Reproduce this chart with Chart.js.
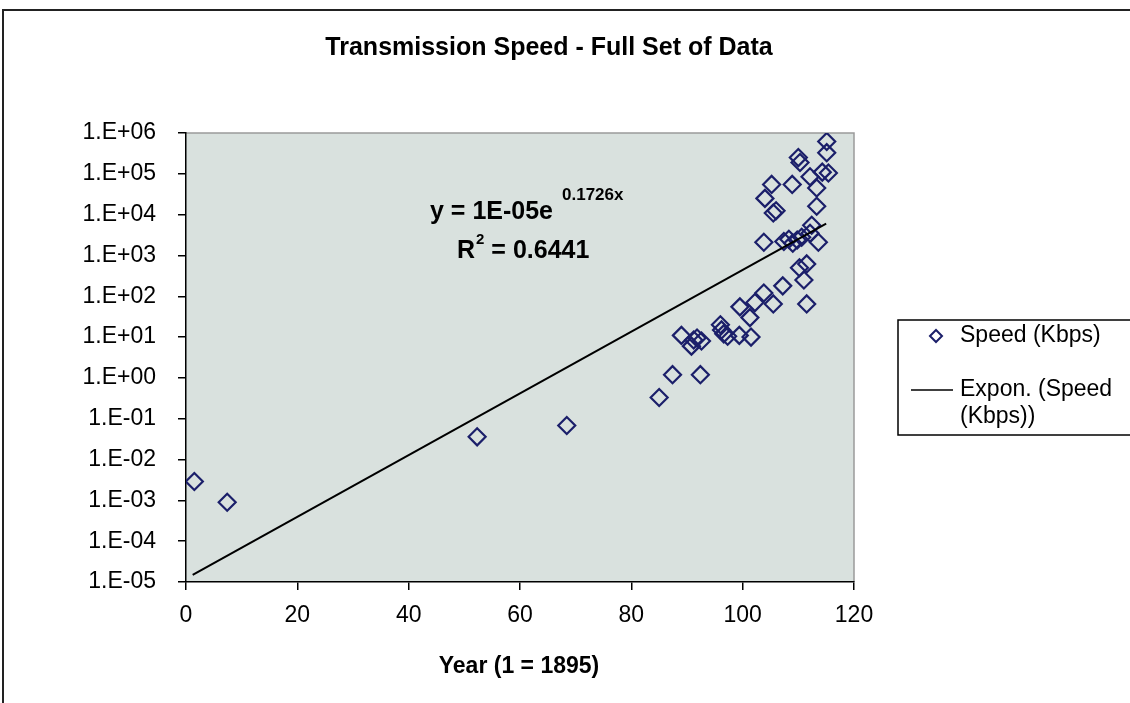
<!DOCTYPE html>
<html><head><meta charset="utf-8">
<script src="https://cdn.jsdelivr.net/npm/chart.js@4"></script>
<style>html,body{margin:0;padding:0;background:#fff;}#wrap{width:1130px;height:703px;position:relative;}canvas{display:block;}</style>
</head><body><div id="wrap"><canvas id="c" width="1130" height="703"></canvas></div>
<script>
const chartTitle = 'Transmission Speed - Full Set of Data';
const xAxisTitle = 'Year (1 = 1895)';
const seriesLabel = 'Speed (Kbps)';
const trendLabelLines = ['Expon. (Speed', '(Kbps))'];
const equationMain = 'y = 1E-05e';
const equationExp = '0.1726x';
const r2Main = 'R';
const r2Sup = '2';
const r2Rest = ' = 0.6441';

const years = [1.5, 7.4, 52.3, 68.4, 85.0, 87.4, 92.4, 89.0, 90.8, 91.2, 91.8, 92.6,
  96.0, 96.2, 96.6, 97.3, 99.4, 101.5, 99.5, 101.3, 102.2, 103.8, 105.5, 107.2,
  111.0, 111.5, 110.2, 111.5, 103.8, 107.4, 108.3, 109.0, 109.8, 110.6, 112.4, 112.1,
  113.6, 105.5, 106.0, 113.3, 104.0, 105.2, 108.9, 113.3, 112.1, 114.3, 115.4, 110.0,
  110.3, 115.1, 115.1];
const speeds = [0.0029, 0.0009, 0.036, 0.068, 0.33, 1.2, 1.2, 11, 6, 8.5, 9.5, 8,
  20, 15, 12, 10.5, 11, 10, 55, 30, 70, 120, 65, 180,
  250, 65, 500, 620, 2100, 2200, 2500, 2000, 2400, 2800, 5500, 3500,
  2100, 11000, 12500, 16000, 25000, 55000, 55000, 45000, 85000, 110000, 105000, 250000,
  190000, 330000, 620000];
const trendYears = [1.2, 115];
const trendSpeeds = [1.5e-5, 6000];
const xTickValues = [0, 20, 40, 60, 80, 100, 120];
const yTickValues = [1e-5, 1e-4, 1e-3, 1e-2, 1e-1, 1e0, 1e1, 1e2, 1e3, 1e4, 1e5, 1e6];

const FONT = '"Liberation Sans", Arial, sans-serif';
const markerColor = '#1b1f6a';
const plotBg = '#d9e1de';

function fmtExp(v) {
  const e = Math.round(Math.log10(v));
  const s = e < 0 ? '-' : '+';
  const a = Math.abs(e);
  return '1.E' + s + (a < 10 ? '0' + a : a);
}

const decorPlugin = {
  id: 'decor',
  beforeDraw(chart) {
    const {ctx, chartArea: a} = chart;
    ctx.save();
    ctx.fillStyle = plotBg;
    ctx.fillRect(a.left, a.top, a.right - a.left, a.bottom - a.top);
    ctx.strokeStyle = '#9a9a9a';
    ctx.lineWidth = 1.5;
    ctx.beginPath();
    ctx.moveTo(a.left, a.top); ctx.lineTo(a.right, a.top); ctx.lineTo(a.right, a.bottom);
    ctx.stroke();
    ctx.strokeStyle = '#222';
    ctx.lineWidth = 2;
    ctx.strokeRect(3, 10, 1200, 800);
    ctx.restore();
  },
  afterDraw(chart) {
    const {ctx, chartArea: a} = chart;
    ctx.save();
    ctx.fillStyle = '#000';
    ctx.textBaseline = 'middle';
    ctx.textAlign = 'center';
    ctx.font = 'bold 25px ' + FONT;
    ctx.fillText(chartTitle, 549, 48);
    ctx.font = 'bold 23px ' + FONT;
    ctx.fillText(xAxisTitle, (a.left + a.right) / 2 - 1, 667);
    ctx.textAlign = 'left';
    ctx.font = 'bold 25px ' + FONT;
    ctx.fillText(equationMain, 430, 212);
    const w1 = ctx.measureText(equationMain).width;
    ctx.font = 'bold 17px ' + FONT;
    ctx.fillText(equationExp, 430 + w1 + 9, 195);
    ctx.font = 'bold 25px ' + FONT;
    ctx.fillText(r2Main, 457, 251);
    const wR = ctx.measureText(r2Main).width;
    ctx.font = 'bold 15px ' + FONT;
    ctx.fillText(r2Sup, 457 + wR + 1, 240);
    const w2 = ctx.measureText(r2Sup).width;
    ctx.font = 'bold 25px ' + FONT;
    ctx.fillText(r2Rest, 457 + wR + w2 + 1, 251);
    ctx.strokeStyle = '#000';
    ctx.lineWidth = 1.5;
    ctx.strokeRect(898, 320, 300, 115);
    ctx.strokeStyle = markerColor;
    ctx.lineWidth = 2;
    ctx.beginPath();
    const dx = 936, dy = 336, r = 6;
    ctx.moveTo(dx - r, dy); ctx.lineTo(dx, dy - r); ctx.lineTo(dx + r, dy); ctx.lineTo(dx, dy + r); ctx.closePath();
    ctx.stroke();
    ctx.strokeStyle = '#000';
    ctx.lineWidth = 1.5;
    ctx.beginPath(); ctx.moveTo(911, 390); ctx.lineTo(953, 390); ctx.stroke();
    ctx.font = '23px ' + FONT;
    ctx.fillStyle = '#000';
    ctx.fillText(seriesLabel, 960, 336);
    ctx.fillText(trendLabelLines[0], 960, 390);
    ctx.fillText(trendLabelLines[1], 960, 417);
    ctx.restore();
  }
};

new Chart(document.getElementById('c'), {
  type: 'scatter',
  data: {
    datasets: [
      {
        label: trendLabelLines.join(' '),
        type: 'line',
        data: trendYears.map((x, i) => ({x, y: trendSpeeds[i]})),
        borderColor: '#000',
        borderWidth: 2,
        pointRadius: 0,
        fill: false,
        order: 0
      },
      {
        label: seriesLabel,
        data: years.map((x, i) => ({x, y: speeds[i]})),
        pointStyle: 'rectRot',
        pointRadius: 8.5,
        pointHoverRadius: 8.5,
        borderColor: markerColor,
        backgroundColor: 'rgba(0,0,0,0)',
        borderWidth: 2.2,
        order: 1
      }
    ]
  },
  options: {
    responsive: false,
    animation: false,
    events: [],
    layout: {padding: {left: 0, right: 276, top: 133, bottom: 0}},
    plugins: {legend: {display: false}, tooltip: {enabled: false}, title: {display: false}},
    scales: {
      x: {
        type: 'linear', min: 0, max: 120,
        afterBuildTicks: s => { s.ticks = xTickValues.map(v => ({value: v})); },
        afterFit: s => { s.height = 121; },
        ticks: {color: '#000', font: {family: FONT, size: 23}, padding: 12, maxRotation: 0},
        grid: {display: true, drawOnChartArea: false, drawTicks: true, tickLength: 8, color: '#000', lineWidth: 1.5},
        border: {display: true, color: '#000', width: 1.5}
      },
      y: {
        type: 'logarithmic', min: 1e-5, max: 1e6,
        afterBuildTicks: s => { s.ticks = yTickValues.map(v => ({value: v})); },
        afterFit: s => { s.width = 186; },
        ticks: {color: '#000', font: {family: FONT, size: 23}, padding: 22, callback: v => fmtExp(v)},
        grid: {display: true, drawOnChartArea: false, drawTicks: true, tickLength: 8, color: '#000', lineWidth: 1.5},
        border: {display: true, color: '#000', width: 1.5}
      }
    }
  },
  plugins: [decorPlugin]
});
</script></body></html>
